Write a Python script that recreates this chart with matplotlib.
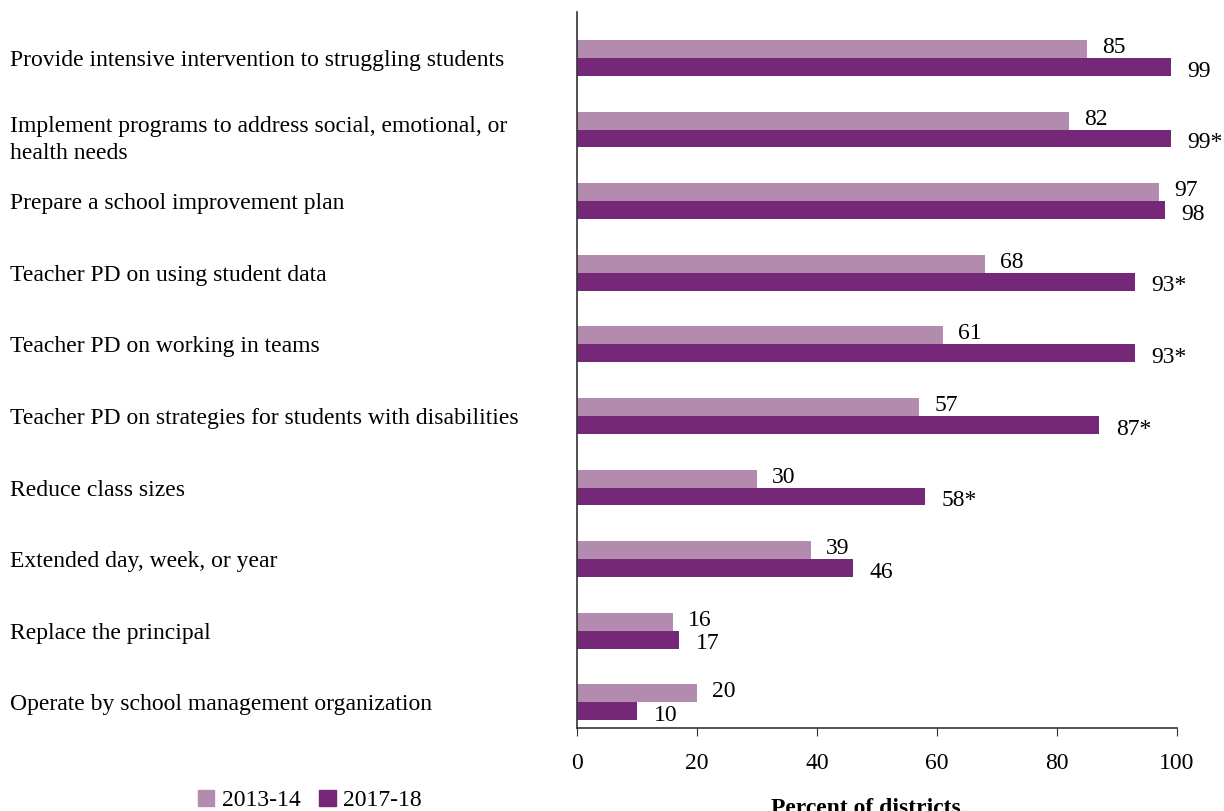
import numpy as np
import matplotlib
matplotlib.use('Agg')
import matplotlib.pyplot as plt
from matplotlib.patches import Patch
from matplotlib.transforms import ScaledTranslation

plt.rcParams['font.family'] = ['Liberation Serif', 'DejaVu Serif']

# Data
categories = [
    'Provide intensive intervention to struggling students',
    'Implement programs to address social, emotional, or\nhealth needs',
    'Prepare a school improvement plan',
    'Teacher PD on using student data',
    'Teacher PD on working in teams',
    'Teacher PD on strategies for students with disabilities',
    'Reduce class sizes',
    'Extended day, week, or year',
    'Replace the principal',
    'Operate by school management organization',
]
vals_2013 = [85, 82, 97, 68, 61, 57, 30, 39, 16, 20]
vals_2017 = [99, 99, 98, 93, 93, 87, 58, 46, 17, 10]
labels_2017 = ['99', '99*', '98', '93*', '93*', '87*', '58*', '46', '17', '10']
series_names = ['2013-14', '2017-18']

light = '#b28bae'
dark = '#742877'

fig = plt.figure(figsize=(12.24, 8.11), dpi=100)
ax = fig.add_axes([0.4714, 0.1023, 0.4902, 0.8827])

y = np.arange(len(categories))
h = 0.25
ax.barh(y - h / 2, vals_2013, height=h, color=light)
ax.barh(y + h / 2, vals_2017, height=h, color=dark)

fs = 17
for i in range(len(categories)):
    ax.annotate(str(vals_2013[i]), (vals_2013[i], y[i] - h / 2), xytext=(11, 1),
                textcoords='offset points', ha='left', va='center', fontsize=fs)
    ax.annotate(labels_2017[i], (vals_2017[i], y[i] + h / 2), xytext=(12, -3),
                textcoords='offset points', ha='left', va='center', fontsize=fs)

ax.set_xlim(0, 100)
ax.set_ylim(9.36, -0.64)
ax.set_xticks([0, 20, 40, 60, 80, 100])
ax.tick_params(axis='x', labelsize=fs, length=6, pad=12, color='#333333')
ax.set_yticks(y)
ax.set_yticklabels(categories, fontsize=fs, ha='left', multialignment='left', linespacing=1.35)
ax.tick_params(axis='y', length=0, pad=408)

# two-line label sits a little lower in the original
lbl = ax.get_yticklabels()[1]
lbl.set_transform(lbl.get_transform() + ScaledTranslation(0, -0.05, fig.dpi_scale_trans))

for s in ['top', 'right']:
    ax.spines[s].set_visible(False)
for s in ['left', 'bottom']:
    ax.spines[s].set_color('#333333')
    ax.spines[s].set_linewidth(1.2)

ax.set_xlabel('Percent of districts', fontsize=fs, fontweight='bold', labelpad=18)
ax.xaxis.set_label_coords(0.482, -0.098)

handles = [Patch(color=light, label=series_names[0]), Patch(color=dark, label=series_names[1])]
fig.legend(handles=handles, loc='center', bbox_to_anchor=(0.253, 0.013), ncol=2,
           frameon=False, fontsize=fs, handlelength=0.7, handleheight=0.7,
           handletextpad=0.3, columnspacing=0.8)

fig.savefig('out.png', dpi=100)
